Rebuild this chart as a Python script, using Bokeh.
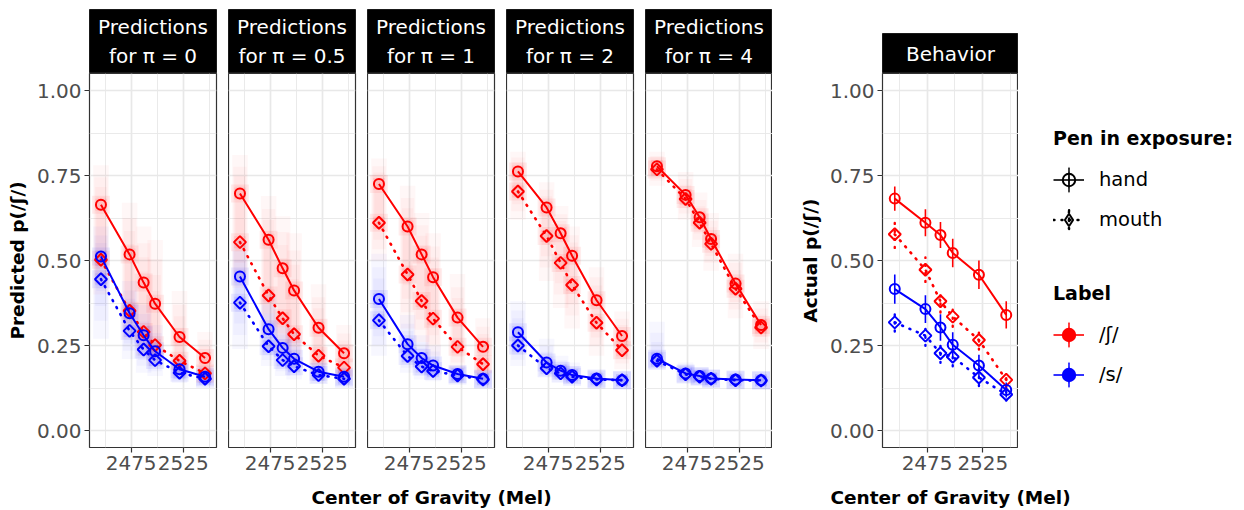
import math
from bokeh.plotting import figure
from bokeh.layouts import row, column, Spacer
from bokeh.models import (Range1d, FixedTicker, PrintfTickFormatter, Legend, LegendItem,
                          ColumnDataSource, Label)
from bokeh.embed import file_html
from bokeh.resources import INLINE

# ---------------- data ----------------
COG = [2446, 2473.5, 2487, 2498, 2521.5, 2546]
X_TICKS = [2475, 2525]
X_MINOR = [2450, 2500, 2550]
Y_TICKS = [0.0, 0.25, 0.5, 0.75, 1.0]
Y_MINOR = [0.125, 0.375, 0.625, 0.875]
PANEL_TITLES = ["Predictions\nfor π = 0", "Predictions\nfor π = 0.5", "Predictions\nfor π = 1",
                "Predictions\nfor π = 2", "Predictions\nfor π = 4"]
BEHAVIOR_TITLE = "Behavior"

# predicted mean p(/ʃ/), one row per panel
PRED_SH_HAND = [
    [0.664, 0.518, 0.435, 0.373, 0.275, 0.213],
    [0.697, 0.561, 0.477, 0.412, 0.302, 0.227],
    [0.725, 0.600, 0.518, 0.451, 0.332, 0.246],
    [0.762, 0.656, 0.580, 0.514, 0.383, 0.278],
    [0.777, 0.693, 0.627, 0.563, 0.432, 0.310],
]
PRED_SH_MOUTH = [
    [0.502, 0.352, 0.290, 0.251, 0.205, 0.168],
    [0.554, 0.397, 0.330, 0.283, 0.220, 0.185],
    [0.611, 0.459, 0.381, 0.329, 0.246, 0.195],
    [0.703, 0.572, 0.493, 0.428, 0.317, 0.236],
    [0.768, 0.681, 0.611, 0.549, 0.417, 0.303],
]
PRED_S_HAND = [
    [0.512, 0.345, 0.280, 0.233, 0.180, 0.158],
    [0.453, 0.298, 0.243, 0.211, 0.173, 0.158],
    [0.387, 0.254, 0.213, 0.191, 0.166, 0.152],
    [0.289, 0.200, 0.176, 0.163, 0.153, 0.148],
    [0.211, 0.168, 0.160, 0.153, 0.150, 0.148],
]
PRED_S_MOUTH = [
    [0.445, 0.293, 0.238, 0.207, 0.170, 0.152],
    [0.376, 0.248, 0.207, 0.189, 0.163, 0.152],
    [0.324, 0.219, 0.188, 0.175, 0.162, 0.150],
    [0.250, 0.183, 0.168, 0.158, 0.150, 0.148],
    [0.205, 0.165, 0.158, 0.152, 0.148, 0.147],
]
# posterior sample clouds (approximate extent)
CLOUD_SH_LO = [
    [0.40, 0.27, 0.22, 0.19, 0.16, 0.14],
    [0.42, 0.28, 0.23, 0.20, 0.17, 0.15],
    [0.50, 0.30, 0.26, 0.22, 0.18, 0.15],
    [0.62, 0.44, 0.36, 0.30, 0.22, 0.18],
    [0.72, 0.62, 0.54, 0.47, 0.33, 0.24],
]
CLOUD_SH_HI = [
    [0.78, 0.67, 0.60, 0.56, 0.41, 0.29],
    [0.81, 0.69, 0.63, 0.58, 0.43, 0.31],
    [0.80, 0.72, 0.64, 0.58, 0.46, 0.33],
    [0.82, 0.73, 0.66, 0.60, 0.48, 0.35],
    [0.82, 0.76, 0.70, 0.64, 0.52, 0.38],
]
CLOUD_S_LO = [
    [0.27, 0.21, 0.17, 0.16, 0.14, 0.135],
    [0.24, 0.19, 0.16, 0.15, 0.14, 0.135],
    [0.22, 0.17, 0.15, 0.145, 0.14, 0.135],
    [0.19, 0.16, 0.15, 0.145, 0.14, 0.14],
    [0.18, 0.15, 0.145, 0.14, 0.14, 0.14],
]
CLOUD_S_HI = [
    [0.60, 0.44, 0.37, 0.31, 0.22, 0.19],
    [0.56, 0.40, 0.33, 0.29, 0.21, 0.18],
    [0.52, 0.34, 0.28, 0.25, 0.19, 0.17],
    [0.38, 0.27, 0.22, 0.20, 0.17, 0.16],
    [0.32, 0.20, 0.18, 0.17, 0.165, 0.16],
]
# behaviour: mean and half-width of interval
BEH_SH_HAND = [0.682, 0.611, 0.575, 0.522, 0.458, 0.340]
BEH_SH_HAND_ERR = [0.036, 0.040, 0.038, 0.042, 0.042, 0.040]
BEH_SH_MOUTH = [0.577, 0.473, 0.380, 0.335, 0.266, 0.149]
BEH_SH_MOUTH_ERR = [0.040, 0.036, 0.033, 0.030, 0.028, 0.022]
BEH_S_HAND = [0.416, 0.357, 0.303, 0.252, 0.191, 0.119]
BEH_S_HAND_ERR = [0.043, 0.041, 0.039, 0.037, 0.032, 0.022]
BEH_S_MOUTH = [0.318, 0.279, 0.227, 0.217, 0.156, 0.106]
BEH_S_MOUTH_ERR = [0.027, 0.030, 0.028, 0.028, 0.025, 0.018]

LEGEND_PEN_TITLE = "Pen in exposure:"
LEGEND_PEN = ["hand", "mouth"]
LEGEND_LABEL_TITLE = "Label"
LEGEND_LABELS = ["/ʃ/", "/s/"]

# ---------------- style ----------------
FONT = "DejaVu Sans"
RED = "#FF0000"
BLUE = "#0000FF"
GRID = "#E8E8E8"
DARK = "#333333"
TICKTXT = "#4D4D4D"
XMIN, XMAX = 2435, 2557
YMIN, YMAX = -0.05, 1.05
FRAME_H = 374
DOT = "1 7"


def style_panel(p, has_y, ylabel=None):
    p.background_fill_color = "white"
    p.border_fill_color = "white"
    p.outline_line_color = DARK
    p.outline_line_width = 1.2
    xt = FixedTicker(ticks=X_TICKS, minor_ticks=X_MINOR)
    yt = FixedTicker(ticks=Y_TICKS, minor_ticks=Y_MINOR)
    p.xaxis.ticker = xt
    p.xgrid.ticker = xt
    p.ygrid.ticker = yt
    for g in (p.xgrid, p.ygrid):
        g.grid_line_color = GRID
        g.grid_line_width = 1.7
        g.minor_grid_line_color = GRID
        g.minor_grid_line_width = 0.9
    axes = list(p.xaxis)
    if has_y:
        p.yaxis.ticker = yt
        p.yaxis.formatter = PrintfTickFormatter(format="%.2f")
        p.yaxis.axis_label = ylabel
        p.yaxis.axis_label_text_font = FONT
        p.yaxis.axis_label_text_font_style = "bold"
        p.yaxis.axis_label_text_font_size = "18.5px"
        p.yaxis.axis_label_text_color = "black"
        p.yaxis.axis_label_standoff = 6
        axes += list(p.yaxis)
    p.xaxis.formatter = PrintfTickFormatter(format="%d")
    for ax in axes:
        ax.axis_line_color = None
        ax.major_tick_line_color = DARK
        ax.major_tick_line_width = 1.2
        ax.major_tick_in = 0
        ax.major_tick_out = 5
        ax.minor_tick_line_color = None
        ax.major_label_text_font = FONT
        ax.major_label_text_font_size = "20px"
        ax.major_label_text_color = TICKTXT
        ax.major_label_standoff = 3


def new_panel(frame_w, left, right, has_y, ylabel=None):
    p = figure(frame_width=frame_w, frame_height=FRAME_H,
               x_range=Range1d(XMIN, XMAX), y_range=Range1d(YMIN, YMAX),
               min_border_left=left, min_border_right=right,
               min_border_top=0, min_border_bottom=33,
               y_axis_location="left" if has_y else None,
               output_backend="svg", toolbar_location=None)
    style_panel(p, has_y, ylabel)
    return p


def strip(frame_w, left, right, top, h, text):
    s = figure(frame_width=frame_w, frame_height=h,
               x_range=Range1d(0, 1), y_range=Range1d(0, 1),
               min_border_left=left, min_border_right=right,
               min_border_top=top, min_border_bottom=0,
               x_axis_location=None, y_axis_location=None,
               output_backend="svg", toolbar_location=None)
    s.grid.visible = False
    s.background_fill_color = "black"
    s.border_fill_color = "white"
    s.outline_line_color = "#1A1A1A"
    s.add_layout(Label(x=0.5, y=0.5, text=text, text_align="center", text_baseline="middle",
                       text_color="white", text_font=FONT, text_font_size="20px",
                       text_line_height=1.2))
    return s


def draw_cloud(p, lo, hi, hand, mouth, color):
    # layered translucent bands from the outer extent towards the means -> soft cloud
    m_lo = [min(b, c) for b, c in zip(hand, mouth)]
    m_hi = [max(b, c) for b, c in zip(hand, mouth)]
    for t, w in ((0.0, 15), (0.3, 13), (0.55, 11), (0.8, 9)):
        src = ColumnDataSource(dict(
            x=COG,
            lo=[a + t * (b - a) for a, b in zip(lo, m_lo)],
            hi=[a + t * (b - a) for a, b in zip(hi, m_hi)]))
        p.vbar(x="x", width=w, bottom="lo", top="hi", source=src,
               fill_color=color, fill_alpha=0.03, line_color=None)
    p.scatter(COG + COG, hand + mouth, marker="square", size=18, fill_color=color,
              fill_alpha=0.07, line_color=None)
    p.scatter(COG + COG, hand + mouth, marker="square", size=12, fill_color=color,
              fill_alpha=0.08, line_color=None)


def draw_series(p, hand, mouth, color):
    p.line(COG, hand, line_color=color, line_width=2)
    p.line(COG, mouth, line_color=color, line_width=2.6, line_dash=DOT, line_cap="round")
    p.scatter(COG, hand, marker="circle", size=10, fill_color=None, line_color=color, line_width=2)
    p.scatter(COG, mouth, marker="square", angle=math.pi / 4, size=8.5, fill_color=None,
              line_color=color, line_width=2)


# ---------------- prediction panels ----------------
FRAME_W = 127
GAP = 12
cols = []
for i, title in enumerate(PANEL_TITLES):
    left = 89 if i == 0 else 0
    right = GAP if i < len(PANEL_TITLES) - 1 else 0
    p = new_panel(FRAME_W, left, right, i == 0, "Predicted p(/ʃ/)")
    draw_cloud(p, CLOUD_SH_LO[i], CLOUD_SH_HI[i], PRED_SH_HAND[i], PRED_SH_MOUTH[i], RED)
    draw_cloud(p, CLOUD_S_LO[i], CLOUD_S_HI[i], PRED_S_HAND[i], PRED_S_MOUTH[i], BLUE)
    draw_series(p, PRED_SH_HAND[i], PRED_SH_MOUTH[i], RED)
    draw_series(p, PRED_S_HAND[i], PRED_S_MOUTH[i], BLUE)
    s = strip(FRAME_W, left, right, 9, 64, title)
    cols.append(column(s, p, spacing=0))

# ---------------- behaviour panel ----------------
BEH_W = 136
pb = new_panel(BEH_W, 110, 0, True, "Actual p(/ʃ/)")
for mean, err, dash, color in ((BEH_SH_HAND, BEH_SH_HAND_ERR, None, RED),
                               (BEH_SH_MOUTH, BEH_SH_MOUTH_ERR, DOT, RED),
                               (BEH_S_HAND, BEH_S_HAND_ERR, None, BLUE),
                               (BEH_S_MOUTH, BEH_S_MOUTH_ERR, DOT, BLUE)):
    src = ColumnDataSource(dict(x=COG, lo=[m - e for m, e in zip(mean, err)],
                                hi=[m + e for m, e in zip(mean, err)]))
    kw = dict(line_dash=dash, line_cap="round", line_width=2.4) if dash else dict(line_width=1.6)
    pb.segment(x0="x", y0="lo", x1="x", y1="hi", source=src, line_color=color, **kw)
draw_series(pb, BEH_SH_HAND, BEH_SH_MOUTH, RED)
draw_series(pb, BEH_S_HAND, BEH_S_MOUTH, BLUE)
sb = strip(BEH_W, 110, 0, 33, 40, BEHAVIOR_TITLE)
cols.append(column(sb, pb, spacing=0))

# ---------------- legend ----------------
lf = figure(frame_width=226, frame_height=480, x_range=Range1d(0, 1), y_range=Range1d(0, 1),
            min_border_left=0, min_border_right=0, min_border_top=0, min_border_bottom=0,
            x_axis_location=None, y_axis_location=None,
            output_backend="svg", toolbar_location=None)
lf.grid.visible = False
lf.outline_line_color = None
# legend proxies: one point each, placed outside the visible range so only the key shows
PX, PY = [-5.0], [-5.0]


def key(color, dashed, marker, filled):
    kw = dict(line_dash=DOT, line_cap="round", line_width=2.4) if dashed else dict(line_width=1.6)
    r1 = lf.line(PX, PY, line_color=color, **kw)
    # a very thin ellipse: its legend key becomes a vertical bar
    r2 = lf.ellipse(x=PX, y=PY, width=0.4, height=40, width_units="screen", height_units="screen",
                    fill_color=None, line_color=color, **kw)
    r3 = lf.scatter(PX, PY, marker=marker, line_color=color, line_width=2,
                    fill_color=color if filled else None)
    return [r1, r2, r3]


def style_legend(leg):
    leg.title_text_font = FONT
    leg.title_text_font_style = "bold"
    leg.title_text_font_size = "19px"
    leg.title_text_color = "black"
    leg.title_standoff = 15
    leg.label_text_font = FONT
    leg.label_text_font_size = "19.5px"
    leg.label_text_color = "black"
    leg.glyph_width = 31
    leg.glyph_height = 31
    leg.label_height = 31
    leg.spacing = 9
    leg.label_standoff = 15
    leg.padding = 0
    leg.margin = 0
    leg.border_line_color = None
    leg.background_fill_alpha = 0


leg1 = Legend(items=[LegendItem(label=LEGEND_PEN[0], renderers=key("black", False, "circle", False)),
                     LegendItem(label=LEGEND_PEN[1], renderers=key("black", True, "diamond", False))],
              title=LEGEND_PEN_TITLE, location=(35, 245))
leg2 = Legend(items=[LegendItem(label=LEGEND_LABELS[0], renderers=key(RED, False, "circle", True)),
                     LegendItem(label=LEGEND_LABELS[1], renderers=key(BLUE, False, "circle", True))],
              title=LEGEND_LABEL_TITLE, location=(35, 90))
style_legend(leg1)
style_legend(leg2)
lf.add_layout(leg1, "center")
lf.add_layout(leg2, "center")


# ---------------- x axis titles ----------------
def title_fig(w, text):
    t = figure(frame_width=w, frame_height=30, x_range=Range1d(0, 1), y_range=Range1d(0, 1),
               min_border_left=0, min_border_right=0, min_border_top=0, min_border_bottom=0,
               x_axis_location=None, y_axis_location=None,
               output_backend="svg", toolbar_location=None)
    t.grid.visible = False
    t.outline_line_color = None
    t.add_layout(Label(x=0.5, y=0.45, text=text, text_align="center", text_baseline="middle",
                       text_color="black", text_font=FONT, text_font_style="bold",
                       text_font_size="18.5px"))
    return t


top = row(*cols, lf, spacing=0)
bottom = row(Spacer(width=89, height=30), title_fig(684, "Center of Gravity (Mel)"),
             Spacer(width=47, height=30), title_fig(260, "Center of Gravity (Mel)"), spacing=0)
layout = column(top, bottom, spacing=0)

open("out.html", "w").write(file_html(layout, INLINE))
